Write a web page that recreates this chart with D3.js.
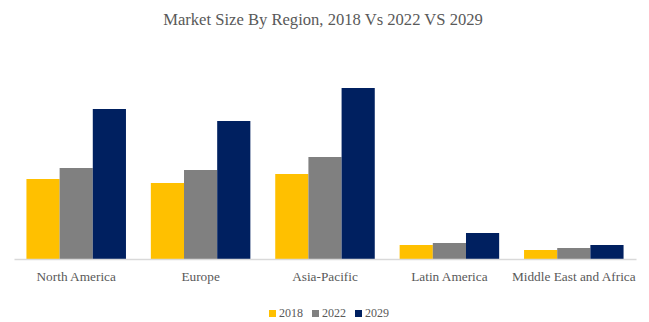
<!DOCTYPE html>
<html>
<head>
<meta charset="utf-8">
<script src="https://cdn.jsdelivr.net/npm/d3@7"></script>
<style>
body { margin: 0; background: #fff; }
text { font-family: "Liberation Serif", "DejaVu Serif", serif; fill: #595959; }
</style>
</head>
<body>
<script>
var regions = ["North America", "Europe", "Asia-Pacific", "Latin America", "Middle East and Africa"];
var years = ["2018", "2022", "2029"];
var values2018 = [8.0, 7.6, 8.5, 1.4, 0.9];
var values2022 = [9.1, 8.9, 10.2, 1.6, 1.1];
var values2029 = [15.0, 13.8, 17.1, 2.6, 1.4];
var colors = ["#ffc000", "#808080", "#002060"];

var series = [values2018, values2022, values2029];
var data = regions.map(function (r, i) {
	return { region: r, vals: years.map(function (y, j) { return { year: y, value: series[j][i] }; }) };
});

var width = 649, height = 322;
var svg = d3.select("body").append("svg")
	.attr("width", width)
	.attr("height", height);

var x0 = d3.scaleBand().domain(regions).range([14, 636]).paddingInner(0.2).paddingOuter(0.1);
var x1 = d3.scaleBand().domain(years).range([0, x0.bandwidth()]);
var y = d3.scaleLinear().domain([0, 18]).range([259, 79]);
var color = d3.scaleOrdinal().domain(years).range(colors);

svg.append("text")
	.attr("x", 323)
	.attr("y", 25)
	.attr("text-anchor", "middle")
	.style("font-size", "16.6px")
	.text("Market Size By Region, 2018 Vs 2022 VS 2029");

var groups = svg.selectAll("g.region")
	.data(data)
	.enter().append("g")
	.attr("class", "region")
	.attr("transform", function (d) { return "translate(" + x0(d.region) + ",0)"; });

groups.selectAll("rect")
	.data(function (d) { return d.vals; })
	.enter().append("rect")
	.attr("x", function (d) { return x1(d.year); })
	.attr("width", x1.bandwidth())
	.attr("y", function (d) { return y(d.value); })
	.attr("height", function (d) { return y(0) - y(d.value); })
	.attr("fill", function (d) { return color(d.year); });

var xAxis = svg.append("g")
	.attr("transform", "translate(0," + y(0) + ")")
	.call(d3.axisBottom(x0).tickSize(0).tickPadding(13));
xAxis.select(".domain").attr("stroke", "#d9d9d9").attr("stroke-width", 1.5);
xAxis.selectAll("text")
	.style("font-size", "13.3px")
	.style("font-family", "'Liberation Serif', serif")
	.attr("fill", "#595959");

var legendX = [269, 312, 355];
var legend = svg.selectAll("g.legend")
	.data(years)
	.enter().append("g")
	.attr("class", "legend")
	.attr("transform", function (d, i) { return "translate(" + legendX[i] + ",310)"; });

legend.append("rect")
	.attr("width", 7)
	.attr("height", 7)
	.attr("fill", function (d) { return color(d); });

legend.append("text")
	.attr("x", 10)
	.attr("y", 7)
	.style("font-size", "12px")
	.text(function (d) { return d; });
</script>
</body>
</html>
